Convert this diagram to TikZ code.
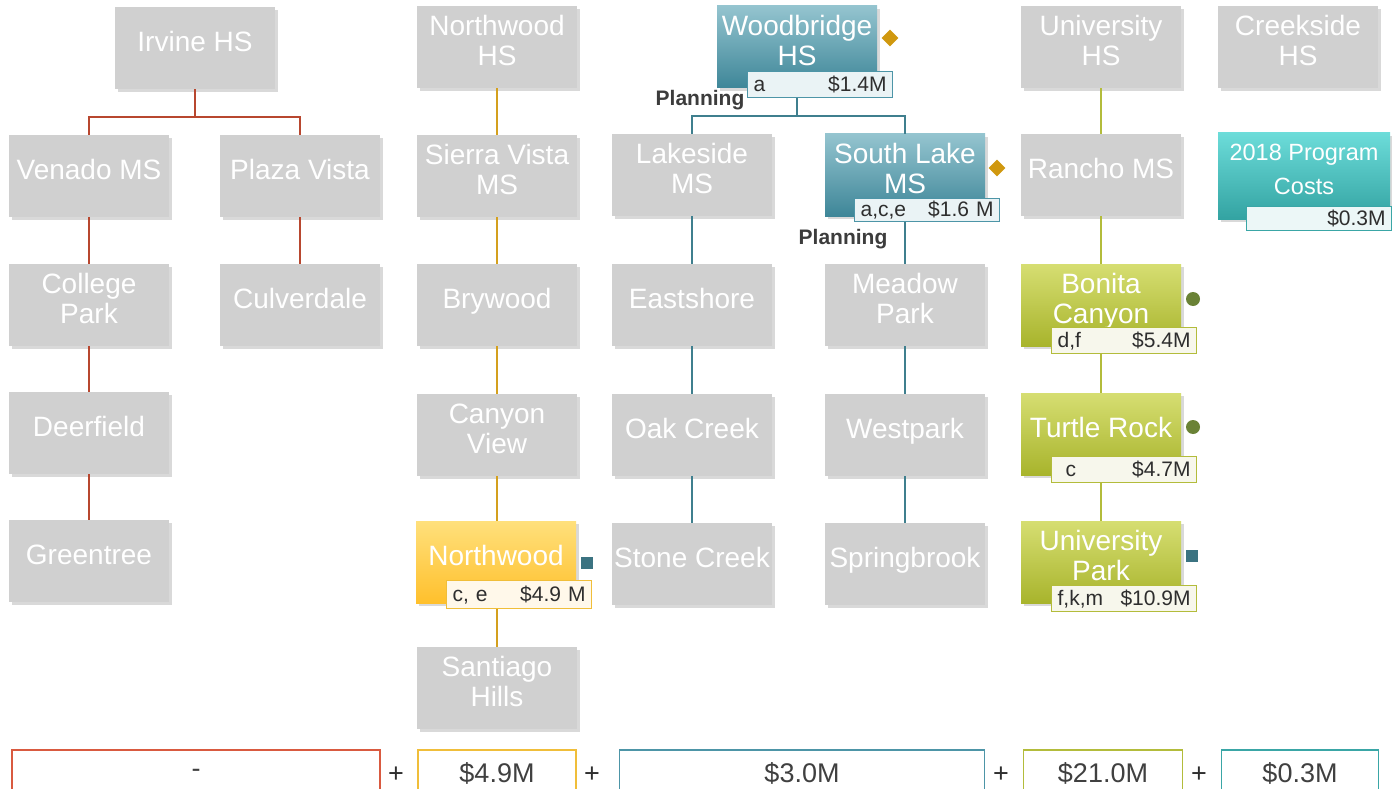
\documentclass[tikz,border=0pt]{standalone}
\usepackage{fontspec}
\setmainfont{Liberation Sans}
\usetikzlibrary{shapes.geometric, shadows}

\definecolor{boxgray}{HTML}{D0D0D0}
\definecolor{irvred}{HTML}{B8472F}
\definecolor{sumred}{HTML}{D95A40}
\definecolor{nwgold}{HTML}{D4A01E}
\definecolor{sumgold}{HTML}{F0BE3A}
\definecolor{nwtop}{HTML}{FFE07C}
\definecolor{nwbot}{HTML}{FFC02C}
\definecolor{nwpale}{HTML}{FFF8EA}
\definecolor{wbteal}{HTML}{3F7F8E}
\definecolor{wbtop}{HTML}{94C4CF}
\definecolor{wbbot}{HTML}{3E8698}
\definecolor{wbpale}{HTML}{EAF3F5}
\definecolor{wbedge}{HTML}{4D95A7}
\definecolor{unigreen}{HTML}{B3BC3B}
\definecolor{unitop}{HTML}{D6DE72}
\definecolor{unibot}{HTML}{A8B42C}
\definecolor{unipale}{HTML}{F7F7EC}
\definecolor{cytop}{HTML}{6CDCD9}
\definecolor{cybot}{HTML}{33A3A2}
\definecolor{cypale}{HTML}{ECF7F7}
\definecolor{cyedge}{HTML}{3AA6A6}
\definecolor{gemgold}{HTML}{D0980F}
\definecolor{olivemark}{HTML}{6A8236}
\definecolor{sqteal}{HTML}{3B7381}
\definecolor{labeltext}{HTML}{2E2E2E}
\definecolor{plantext}{HTML}{3C3C3C}
\definecolor{sumtext}{HTML}{404040}

\tikzset{
  school/.style={fill=boxgray, text=white, minimum width=160pt, minimum height=82pt,
    align=center, inner xsep=1pt, text depth=13pt, font=\fontsize{28}{30}\selectfont,
    drop shadow={opacity=0.3, shadow xshift=3pt, shadow yshift=-3pt}},
  cost/.style={draw=#1, line width=1.2pt, text=labeltext, minimum height=26pt,
    text width=133pt, inner xsep=6pt, inner ysep=0pt, anchor=south east,
    font=\fontsize{21}{22}\selectfont},
  link/.style={line width=2pt, draw=#1},
  total/.style={draw=#1, line width=1.8pt, fill=white, text=sumtext, minimum height=46pt,
    font=\fontsize{27}{28}\selectfont},
  plussign/.style={text=labeltext, font=\fontsize{27}{28}\selectfont},
  planlabel/.style={text=plantext, font=\fontsize{21}{22}\bfseries},
  gem/.style={diamond, fill=gemgold, minimum size=17pt, inner sep=0pt},
  olivedot/.style={circle, fill=olivemark, minimum size=14pt, inner sep=0pt},
  tealsq/.style={rectangle, fill=sqteal, minimum size=12pt, inner sep=0pt}
}

\begin{document}
\begin{tikzpicture}[x=1pt, y=-1pt]
    \useasboundingbox (0,0) rectangle (1392,789);

    % Irvine HS feeders
    \node[school] (irvhs) at (195,48) {Irvine HS};
    \node[school] (venado) at (89,176) {Venado MS};
    \node[school] (plaza) at (300,176) {Plaza Vista};
    \node[school] (college) at (89,305) {College\\Park};
    \node[school] (culver) at (300,305) {Culverdale};
    \node[school] (deer) at (89,433) {Deerfield};
    \node[school] (green) at (89,561) {Greentree};

    % Northwood HS feeders
    \node[school] (nwhs) at (497,47) {Northwood\\HS};
    \node[school] (sierra) at (497,176) {Sierra Vista\\MS};
    \node[school] (bry) at (497,305) {Brywood};
    \node[school] (canyon) at (497,435) {Canyon\\View};
    \node[school, top color=nwtop, bottom color=nwbot] (nwes) at (496,562) {Northwood};
    \node[school] (santiago) at (497,688) {Santiago\\Hills};

    % Woodbridge HS feeders
    \node[school, top color=wbtop, bottom color=wbbot] (wbhs) at (797,47) {Woodbridge\\HS};
    \node[school] (lake) at (692,175) {Lakeside\\MS};
    \node[school, top color=wbtop, bottom color=wbbot] (slake) at (905,175) {South Lake\\MS};
    \node[school] (east) at (692,305) {Eastshore};
    \node[school] (meadow) at (905,305) {Meadow\\Park};
    \node[school] (oak) at (692,435) {Oak Creek};
    \node[school] (west) at (905,435) {Westpark};
    \node[school] (stone) at (692,564) {Stone Creek};
    \node[school] (spring) at (905,564) {Springbrook};

    % University HS feeders
    \node[school] (unihs) at (1101,47) {University\\HS};
    \node[school] (rancho) at (1101,175) {Rancho MS};
    \node[school, top color=unitop, bottom color=unibot] (bonita) at (1101,305) {Bonita\\Canyon};
    \node[school, top color=unitop, bottom color=unibot] (turtle) at (1101,434) {Turtle Rock};
    \node[school, top color=unitop, bottom color=unibot] (upark) at (1101,562) {University\\Park};

    % Creekside and program costs
    \node[school] (creek) at (1298,47) {Creekside\\HS};
    \node[school, top color=cytop, bottom color=cybot, minimum width=172pt, minimum height=86pt,
      font=\fontsize{23.5}{34}\selectfont] (costs) at (1304,176) {2018 Program\\Costs};

    % Cost tags
    \node[cost=wbedge, fill=wbpale] (wbcost) at ([xshift=16pt, yshift=-10pt]wbhs.south east) {a\hfill\$1.4M};
    \node[cost=wbedge, fill=wbpale, minimum height=23pt] (slcost) at ([xshift=15pt, yshift=-6pt]slake.south east) {a,c,e\hfill\$1.6 M};
    \node[cost=unigreen, fill=unipale] (boncost) at ([xshift=16pt, yshift=-8pt]bonita.south east) {d,f\hfill\$5.4M};
    \node[cost=unigreen, fill=unipale] (turcost) at ([xshift=16pt, yshift=-8pt]turtle.south east) {\hspace{8pt}c\hfill\$4.7M};
    \node[cost=unigreen, fill=unipale] (upcost) at ([xshift=16pt, yshift=-9pt]upark.south east) {f,k,m\hfill\$10.9M};
    \node[cost=sumgold, fill=nwpale, minimum height=28pt] (nwcost) at ([xshift=16pt, yshift=-6pt]nwes.south east) {c, e\hfill\$4.9 M};
    \node[cost=cyedge, fill=cypale, minimum height=24pt] (progcost) at ([xshift=2pt, yshift=-12pt]costs.south east) {\hfill\$0.3M};

    % Planning notes
    \node[planlabel] (planwb) at (700,100) {Planning};
    \node[planlabel] (plansl) at (843,239) {Planning};

    % Markers
    \node[gem] (mkwb) at (890,38) {};
    \node[gem] (mksl) at (997,168) {};
    \node[olivedot] (mkbon) at (1193,299) {};
    \node[olivedot] (mktur) at (1193,427) {};
    \node[tealsq] (mkup) at (1192,556) {};
    \node[tealsq] (mknw) at (587,563) {};

    % Connectors
    \coordinate (irvfork) at (195,117);
    \draw[link=irvred] (irvhs.south) -- (irvfork) -| (venado.north);
    \draw[link=irvred] (irvfork) -| (plaza.north);
    \draw[link=irvred] (venado) -- (college) -- (deer) -- (green);
    \draw[link=irvred] (plaza) -- (culver);

    \draw[link=nwgold] (nwhs) -- (sierra) -- (bry) -- (canyon);
    \draw[link=nwgold] (canyon.south) -- (canyon.south |- nwes.north);
    \draw[link=nwgold] (canyon.south |- nwcost.south) -- (canyon.south |- santiago.north);

    \coordinate (wbfork) at (797,116);
    \draw[link=wbteal] (wbhs.south |- wbcost.south) -- (wbfork) -| (lake.north);
    \draw[link=wbteal] (wbfork) -| (slake.north);
    \draw[link=wbteal] (lake) -- (east) -- (oak) -- (stone);
    \draw[link=wbteal] (slake.south |- slcost.south) -- (meadow.north);
    \draw[link=wbteal] (meadow) -- (west) -- (spring);

    \draw[link=unigreen] (unihs) -- (rancho) -- (bonita.north);
    \draw[link=unigreen] (bonita.south |- boncost.south) -- (turtle.north);
    \draw[link=unigreen] (turtle.south |- turcost.south) -- (upark.north);

    % Totals
    \node[total=sumred, minimum width=368pt] (sumirv) at (196,773) {-};
    \node[plussign] (plus1) at (396,775) {+};
    \node[total=sumgold, minimum width=158pt] (sumnw) at (497,773) {\$4.9M};
    \node[plussign] (plus2) at (592,775) {+};
    \node[total=wbedge, minimum width=365pt] (sumwb) at (802,773) {\$3.0M};
    \node[plussign] (plus3) at (1001,775) {+};
    \node[total=unigreen, minimum width=159pt] (sumuni) at (1103,773) {\$21.0M};
    \node[plussign] (plus4) at (1199,775) {+};
    \node[total=cyedge, minimum width=157pt] (sumprog) at (1300,773) {\$0.3M};
\end{tikzpicture}
\end{document}
